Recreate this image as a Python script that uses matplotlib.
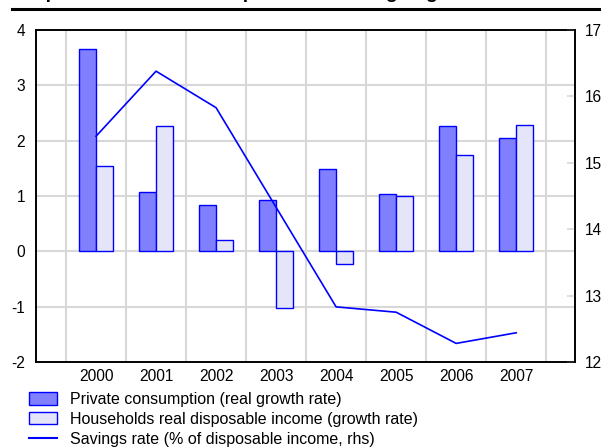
import matplotlib
matplotlib.use("Agg")
import matplotlib.pyplot as plt
from matplotlib.patches import Patch
from matplotlib.lines import Line2D
import numpy as np

years = ["2000", "2001", "2002", "2003", "2004", "2005", "2006", "2007"]
private_consumption = [3.66, 1.08, 0.83, 0.93, 1.48, 1.04, 2.27, 2.04]
disposable_income = [1.54, 2.27, 0.21, -1.02, -0.22, 1.00, 1.75, 2.29]
savings_rate = [15.40, 16.38, 15.83, 14.33, 12.83, 12.75, 12.28, 12.44]

left_ticks = [-2, -1, 0, 1, 2, 3, 4]
right_ticks = [12, 13, 14, 15, 16, 17]

plt.rcParams["font.family"] = ["Liberation Sans", "DejaVu Sans"]

W, H = 601, 447
fig = plt.figure(figsize=(W / 100, H / 100), dpi=100)

blue = "#0000FF"
dark_fill = "#8080FF"
light_fill = "#E5E5FA"
grid_grey = "#D8D8D8"
fs = 11.2

# title band (only the lower edge shows above the rule)
fig.text(12 / W, 1 + 1.5 / H, "Graph 2: Private consumption and savings figures",
         fontsize=14, fontweight="bold", ha="left", va="baseline", color="black")
fig.add_artist(Line2D([12 / W, 1.0], [1 - 9 / H, 1 - 9 / H], color="black", lw=2.2))

ax = fig.add_axes([36 / W, 1 - 362 / H, (575 - 36) / W, (362 - 30) / H])
x = np.arange(len(years))
bw = 0.28
ax.bar(x - bw / 2, private_consumption, bw, color=dark_fill, edgecolor=blue, lw=1.0, zorder=3)
ax.bar(x + bw / 2, disposable_income, bw, color=light_fill, edgecolor=blue, lw=1.0, zorder=3)

ax.set_xlim(-1.0, 7.98)
ax.set_ylim(-2, 4)
ax.set_yticks(left_ticks)
ax.set_yticklabels([str(t) for t in left_ticks])
ax.set_xticks(x)
ax.set_xticklabels(years)
ax.tick_params(axis="both", which="both", length=0, labelsize=fs, pad=8)
ax.tick_params(axis="x", pad=5)
ax.grid(False)
for v in np.arange(-0.5, 8, 1):
    ax.axvline(v, color=grid_grey, lw=1.5, zorder=1)
for t in left_ticks[1:-1]:
    ax.axhline(t, color=grid_grey, lw=1.5, zorder=1)
for s in ax.spines.values():
    s.set_linewidth(1.2)

ax2 = ax.twinx()
ax2.plot(x, savings_rate, color=blue, lw=1.2, zorder=4)
ax2.set_ylim(12, 17)
ax2.set_yticks(right_ticks)
ax2.set_yticklabels([str(t) for t in right_ticks])
ax2.tick_params(axis="y", direction="in", length=6, width=1.2, color=grid_grey,
                labelsize=fs, pad=7)
for s in ax2.spines.values():
    s.set_linewidth(1.2)
ax2.patch.set_visible(False)

handles = [
    Patch(facecolor=dark_fill, edgecolor=blue, lw=1.0),
    Patch(facecolor=light_fill, edgecolor=blue, lw=1.0),
    Line2D([0], [0], color=blue, lw=1.5),
]
labels = [
    "Private consumption (real growth rate)",
    "Households real disposable income (growth rate)",
    "Savings rate (% of disposable income, rhs)",
]
fig.legend(handles, labels, loc="upper left", bbox_to_anchor=(29 / W, 1 - 392 / H),
           frameon=False, fontsize=11.5, handlelength=1.75, handleheight=0.8,
           handletextpad=0.8, labelspacing=0.3, borderaxespad=0, borderpad=0)

fig.savefig("out.png", dpi=100)
